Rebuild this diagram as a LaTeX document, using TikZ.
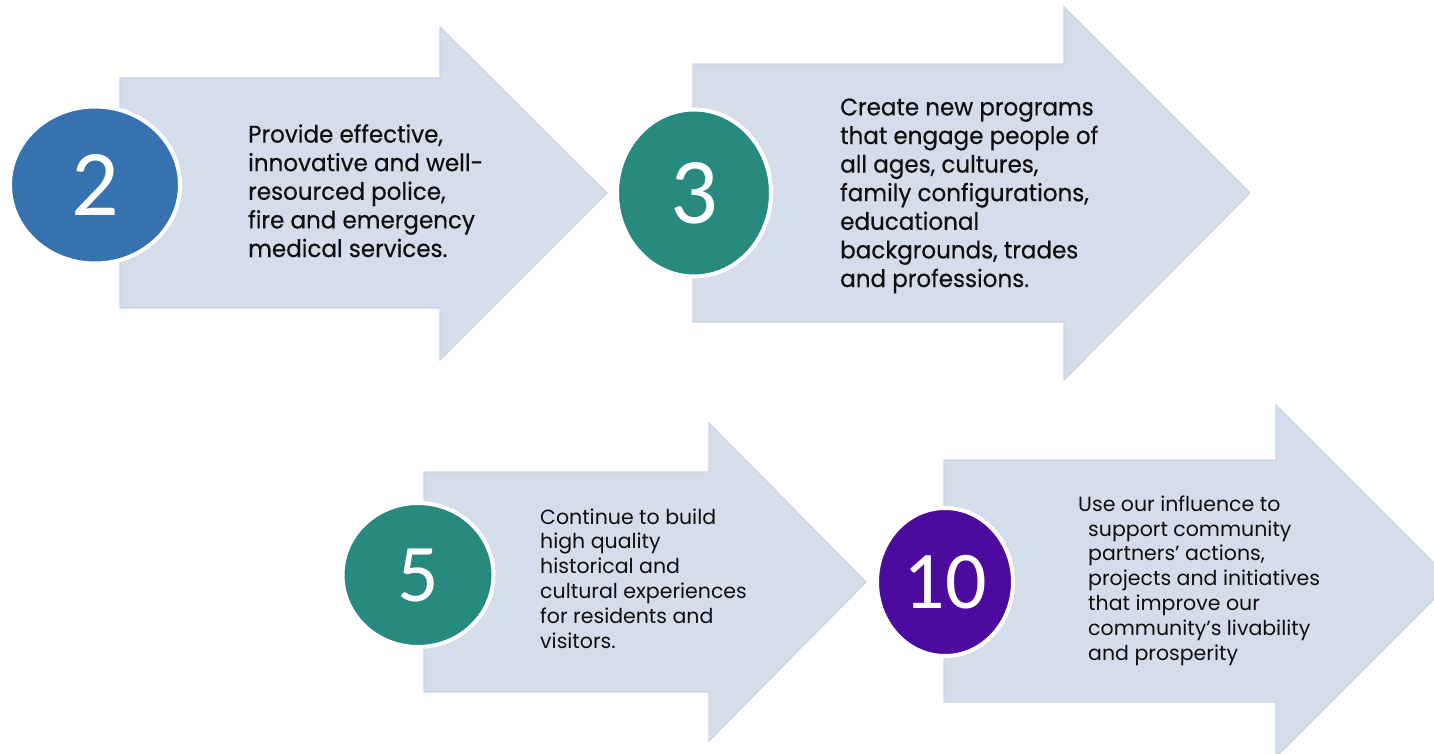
\documentclass[tikz,border=0pt]{standalone}
\usepackage{fontspec}
\usetikzlibrary{shapes.geometric}
\setmainfont{Poppins}
\newfontfamily\numfont{Carlito}
\newfontfamily\bodyfont[FakeStretch=0.96,FakeBold=0.4]{Poppins}
\newfontfamily\smallfont{Poppins}
\definecolor{arrowfill}{RGB}{213,220,234}
\definecolor{arrowedge}{RGB}{204,212,230}
\definecolor{badgeblue}{RGB}{55,114,176}
\definecolor{badgeteal}{RGB}{40,138,126}
\definecolor{badgepurple}{RGB}{76,10,158}
\definecolor{bodytext}{RGB}{15,15,15}
\begin{document}
\begin{tikzpicture}[x=1pt,y=-1pt,
  arrowshape/.style={fill=arrowfill,draw=arrowedge,line width=1.2pt,line join=miter},
  badge/.style={ellipse,draw=white,line width=4pt,inner sep=0pt,text=white},
  % multi-line texts are placed by the baseline of their last line
  bigtext/.style={anchor=base west,align=left,inner sep=0pt,text=bodytext,
    font={\bodyfont\fontsize{24}{28.6}\selectfont}},
  smalltext/.style={anchor=base west,align=left,inner sep=0pt,text=bodytext,
    font={\smallfont\fontsize{20.5}{24.8}\selectfont}}]
\useasboundingbox (0,0) rectangle (1434,754);
\clip (0,0) rectangle (1434,754);

% goal 2
\draw[arrowshape] (120,78) -- (440,78) -- (440,27) -- (607,193) -- (440,360)
  -- (440,308) -- (120,308) -- cycle;
\node[badge,fill=badgeblue,minimum width=170,minimum height=157,
  font={\numfont\fontsize{94}{94}\selectfont}] (n2) at (95,185) {2};
\node[bigtext] (t2) at (248,257) {Provide effective,\\innovative and well-\\resourced police,\\fire and emergency\\medical services.};

% goal 3
\draw[arrowshape] (693,64) -- (1064,64) -- (1064,7) -- (1250,193) -- (1064,380)
  -- (1064,322) -- (693,322) -- cycle;
\node[badge,fill=badgeteal,minimum width=154,minimum height=167,
  font={\numfont\fontsize{94}{94}\selectfont}] (n3) at (694,193) {3};
\node[bigtext] (t3) at (840,287) {Create new programs\\that engage people of\\all ages, cultures,\\family configurations,\\educational\\backgrounds, trades\\and professions.};

% goal 5
\draw[arrowshape] (424,472) -- (709,472) -- (709,423) -- (866,582) -- (709,741)
  -- (709,692) -- (424,692) -- cycle;
\node[badge,fill=badgeteal,minimum width=151,minimum height=144,
  font={\numfont\fontsize{82}{82}\selectfont}] (n5) at (418,575) {5};
\node[smalltext] (t5) at (540,648) {Continue to build\\high quality\\historical and\\cultural experiences\\for residents and\\visitors.};

% goal 10
\draw[arrowshape] (944,460) -- (1276,460) -- (1276,405) -- (1452,581) -- (1276,757)
  -- (1276,702) -- (944,702) -- cycle;
\node[badge,fill=badgepurple,minimum width=136,minimum height=148,
  font={\numfont\fontsize{82}{82}\selectfont}] (n10) at (945,582) {10};
\node[smalltext] (t10) at (1078,660) {Use our influence to\\\hspace*{10pt}support community\\\hspace*{10pt}partners’ actions,\\\hspace*{10pt}projects and initiatives\\\hspace*{10pt}that improve our\\\hspace*{10pt}community’s livability\\\hspace*{10pt}and prosperity};
\end{tikzpicture}
\end{document}
